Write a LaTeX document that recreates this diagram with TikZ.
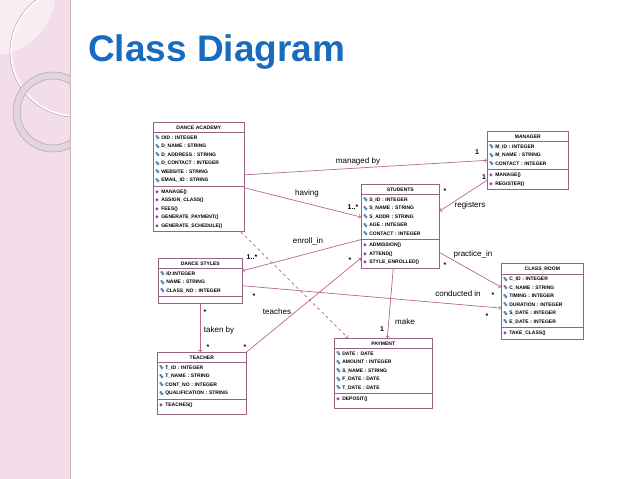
\documentclass[tikz,border=0pt]{standalone}
\usepackage{fontspec}
\setmainfont{Liberation Sans}
\newfontfamily\symfont{DejaVu Sans}
\usetikzlibrary{shapes.multipart}

\definecolor{panelpink}{RGB}{242,221,232}
\definecolor{panellight}{RGB}{249,237,243}
\definecolor{ringgray}{RGB}{226,214,222}
\definecolor{ringedge}{RGB}{178,160,172}
\definecolor{paneledge}{RGB}{205,180,195}
\definecolor{titleblue}{RGB}{24,108,190}
\definecolor{classline}{RGB}{150,100,130}
\definecolor{assocline}{RGB}{185,100,145}
\definecolor{attrblue}{RGB}{60,140,220}
\definecolor{lockgray}{RGB}{120,120,130}
\definecolor{operpurple}{RGB}{150,60,180}

% little icons in front of attributes and operations
\newcommand{\attr}{\makebox[6pt][l]{\raisebox{1.4pt}{\textcolor{lockgray}{\fontsize{3.2}{3.2}\symfont ●}}\kern-1.6pt\raisebox{-0.5pt}{\textcolor{attrblue}{\fontsize{4.5}{4.5}\symfont ◆}}}}
\newcommand{\oper}{\makebox[6pt][l]{\textcolor{operpurple}{\fontsize{4.5}{4.5}\symfont ◆}}}
\newcommand{\lowstrut}{\rule[-5pt]{0pt}{0pt}}

\tikzstyle{umlclass}=[rectangle split,
    rectangle split parts=3,
    draw=classline,
    line width=0.6pt,
    fill=white,
    anchor=north west,
    inner xsep=2pt,
    inner ysep=3pt,
    align=left,
    font=\fontsize{5}{8.5}\selectfont\bfseries]
\tikzstyle{assoc}=[draw=assocline, line width=0.7pt, ->]
\tikzstyle{lbl}=[font=\fontsize{8}{9}\selectfont, inner sep=1pt]
\tikzstyle{mult}=[font=\fontsize{7}{8}\selectfont\bfseries, inner sep=1pt]

\begin{document}
\begin{tikzpicture}[x=1pt,y=-1pt]
\useasboundingbox (0,0) rectangle (638,479);

% side panel
\fill[panelpink] (0,0) rectangle (70,479);
\begin{scope}
    \clip (0,0) rectangle (70,479);
    \fill[panellight] (-10,-10) circle (66);
    \draw[white, line width=2pt] (75,52) circle (64);
    \draw[ringedge, line width=0.5pt] (75,52) circle (65);
    \fill[ringgray, even odd rule] (53,112) circle (40) (53,112) circle (33);
    \draw[ringedge, line width=0.5pt] (53,112) circle (40) (53,112) circle (33);
\end{scope}
\draw[paneledge, line width=0.8pt] (70,0) -- (70,479);

\node[anchor=base west, text=titleblue, font=\fontsize{37}{40}\selectfont\bfseries, inner sep=0pt] (title) at (88,61) {Class Diagram};

% classes
\node[umlclass, text width=87pt] (academy) at (153,122) {{\centering DANCE ACADEMY\par}
    \nodepart{two}\attr OID : INTEGER\\ \attr D\_NAME : STRING\\ \attr D\_ADDRESS : STRING\\
    \attr D\_CONTACT : INTEGER\\ \attr WEBSITE : STRING\\ \attr EMAIL\_ID : STRING
    \nodepart{three}\oper MANAGE()\\ \oper ASSIGN\_CLASS()\\ \oper FEES()\\
    \oper GENERATE\_PAYMENT()\\ \oper GENERATE\_SCHEDULE()};
\node[umlclass, text width=77pt] (manager) at (487,131) {{\centering MANAGER\par}
    \nodepart{two}\attr M\_ID : INTEGER\\ \attr M\_NAME : STRING\\ \attr CONTACT : INTEGER
    \nodepart{three}\oper MANAGE()\\ \oper REGISTER()};
\node[umlclass, text width=74pt] (students) at (361,184) {{\centering STUDENTS\par}
    \nodepart{two}\attr S\_ID : INTEGER\\ \attr S\_NAME : STRING\\ \attr S\_ADDR : STRING\\
    \attr AGE : INTEGER\\ \attr CONTACT : INTEGER
    \nodepart{three}\oper ADMISSION()\\ \oper ATTEND()\\ \oper STYLE\_ENROLLED()};
\node[umlclass, text width=80pt] (styles) at (158,258) {{\centering DANCE STYLES\par}
    \nodepart{two}\attr ID:INTEGER\\ \attr NAME : STRING\\ \attr CLASS\_NO : INTEGER
    \nodepart{three}};
\node[umlclass, text width=78pt] (classroom) at (501,263) {{\centering CLASS\_ROOM\par}
    \nodepart{two}\attr C\_ID : INTEGER\\ \attr C\_NAME : STRING\\ \attr TIMING : INTEGER\\
    \attr DURATION : INTEGER\\ \attr S\_DATE : INTEGER\\ \attr E\_DATE : INTEGER
    \nodepart{three}\oper TAKE\_CLASS()};
\node[umlclass, text width=85pt] (teacher) at (157,352) {{\centering TEACHER\par}
    \nodepart{two}\attr T\_ID : INTEGER\\ \attr T\_NAME : STRING\\ \attr CONT\_NO : INTEGER\\
    \attr QUALIFICATION : STRING
    \nodepart{three}\oper TEACHES()\lowstrut};
\node[umlclass, text width=94pt] (payment) at (334,338) {{\centering PAYMENT\par}
    \nodepart{two}\attr DATE : DATE\\ \attr AMOUNT : INTEGER\\ \attr S\_NAME : STRING\\
    \attr F\_DATE : DATE\\ \attr T\_DATE : DATE
    \nodepart{three}\oper DEPOSIT()\lowstrut};

% associations
\draw[assoc] ([yshift=2pt]academy.east) -- (manager.west);
\draw[assoc] ([yshift=-11pt]academy.east) -- ([yshift=9pt]students.west);
\draw[assoc] ([yshift=-20pt]manager.west) -- ([yshift=15pt]students.east);
\draw[assoc] (students.two split west) -- ([yshift=10pt]styles.east);
\draw[assoc] ([yshift=-13pt]students.two split east) -- ([yshift=14pt]classroom.west);
\draw[assoc] ([yshift=-5pt]styles.east) -- ([yshift=-7pt]classroom.west);
\draw[assoc] (styles.south) -- (styles.south |- teacher.north);
\draw[assoc] (teacher.north east) -- ([yshift=-32pt]students.west);
\draw[assoc] ([xshift=-7pt]students.south) -- ([xshift=4pt]payment.north);
\draw[assoc, dashed] ([xshift=-4pt]academy.south east) -- ([xshift=14pt]payment.north west);

% association names
\foreach \n/\x/\y/\t in {lmanaged/358/161/managed by, lhaving/307/193/having,
    lregisters/470/205/registers, lenroll/308/241/enroll\_in,
    lpractice/473/254/practice\_in, lconducted/458/294/conducted in,
    ltaken/219/330/taken by, lteaches/277/312/teaches, lmake/405/322/make}
    \node[lbl] (\n) at (\x,\y) {\t};

% multiplicities
\foreach \n/\x/\y in {m1/445/191, m2/350/260, m3/445/265, m4/493/295,
    m5/487/316, m6/254/296, m7/205/312, m8/208/347, m9/245/347}
    \node[mult] (\n) at (\x,\y) {*};
\node[mult] (one1) at (477,152) {1};
\node[mult] (one2) at (484,177) {1};
\node[mult] (one3) at (382,329) {1};
\node[mult] (many1) at (353,207) {1..*};
\node[mult] (many2) at (252,257) {1..*};
\end{tikzpicture}
\end{document}
